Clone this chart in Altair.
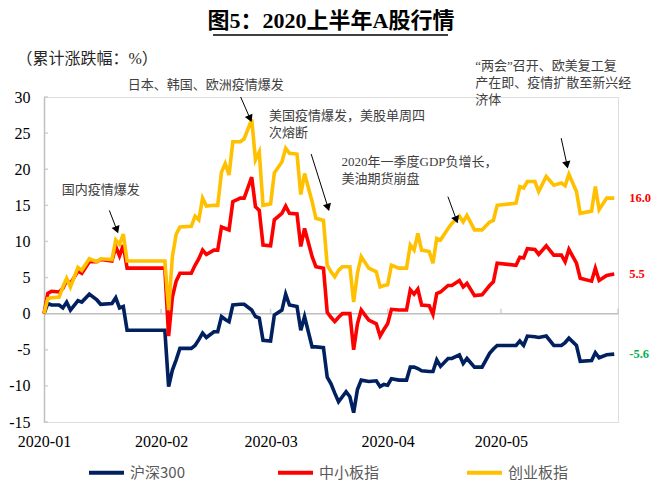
import altair as alt
import pandas as pd

# ---------------- data ----------------
dates = ["2020-01-01","2020-01-02","2020-01-03","2020-01-05","2020-01-06","2020-01-07","2020-01-08",
         "2020-01-10","2020-01-11","2020-01-13","2020-01-15","2020-01-16","2020-01-19","2020-01-20",
         "2020-01-21","2020-01-22","2020-01-23","2020-02-02","2020-02-03","2020-02-04","2020-02-05",
         "2020-02-06","2020-02-09","2020-02-10","2020-02-11","2020-02-12","2020-02-13","2020-02-15",
         "2020-02-16","2020-02-17","2020-02-18","2020-02-19","2020-02-20","2020-02-22","2020-02-23",
         "2020-02-25","2020-02-26","2020-02-27","2020-02-28","2020-03-01","2020-03-02","2020-03-04",
         "2020-03-05","2020-03-06","2020-03-08","2020-03-09","2020-03-10","2020-03-12","2020-03-13",
         "2020-03-15","2020-03-16","2020-03-17","2020-03-18","2020-03-19","2020-03-20","2020-03-21",
         "2020-03-22","2020-03-23","2020-03-24","2020-03-25","2020-03-27","2020-03-29","2020-03-30",
         "2020-03-31","2020-04-01","2020-04-02","2020-04-04","2020-04-06","2020-04-07","2020-04-08",
         "2020-04-09","2020-04-10","2020-04-12","2020-04-13","2020-04-14","2020-04-15","2020-04-17",
         "2020-04-18","2020-04-20","2020-04-21","2020-04-22","2020-04-24","2020-04-26","2020-04-28",
         "2020-04-29","2020-04-30","2020-05-05","2020-05-06","2020-05-07","2020-05-08","2020-05-10",
         "2020-05-11","2020-05-13","2020-05-15","2020-05-17","2020-05-18","2020-05-19","2020-05-21",
         "2020-05-22","2020-05-25","2020-05-26","2020-05-27","2020-05-29","2020-05-31"]

hs300 = [0, 1.4, 1.2, 1.2, 0.8, 1.6, 0.5, 1.8, 1.6, 2.7, 1.9, 1.3, 1.4, 2.2, 0.8, 1.0, -2.3, -2.3,
         -10.1, -7.8, -6.4, -4.8, -4.8, -4.4, -3.6, -2.7, -3.3, -2.5, -2.5, -0.4, -0.8, -1.1, 1.2,
         1.3, 1.3, 0.5, -0.4, -0.6, -3.7, -3.8, -0.2, 0.5, 2.7, 1.2, 1.0, -2.3, -0.4, -4.6, -4.6,
         -4.7, -8.8, -9.7, -11.0, -12.2, -11.5, -10.8, -11.5, -13.7, -10.5, -9.2, -9.4, -9.3, -10.1,
         -9.8, -9.9, -9.0, -9.2, -9.2, -7.4, -7.4, -7.6, -7.9, -8.0, -8.0, -6.4, -7.3, -6.2, -6.2,
         -5.7, -6.9, -6.2, -7.4, -7.4, -5.5, -4.9, -4.4, -4.4, -3.8, -4.4, -3.1, -3.2, -3.3, -3.1,
         -4.4, -4.4, -4.0, -3.4, -4.4, -6.6, -6.5, -5.4, -6.1, -5.7, -5.6]

zxb = [0, 2.8, 3.1, 3.0, 3.5, 4.6, 4.2, 5.9, 5.6, 7.2, 7.2, 7.5, 7.3, 9.3, 8.0, 9.5, 6.3, 6.3,
       -3.1, 2.3, 4.5, 5.6, 5.6, 6.7, 7.6, 8.8, 8.2, 8.8, 8.8, 12.0, 11.8, 11.6, 15.5, 16.0, 16.0,
       18.9, 14.8, 14.3, 9.5, 9.4, 13.0, 13.9, 14.9, 13.9, 13.8, 9.3, 11.8, 7.9, 6.5, 6.3, 0.2,
       -0.5, -1.1, -0.5, 0.0, 0.0, 0.0, -5.0, -1.4, 0.5, -0.9, -1.4, -3.1, -2.2, -1.4, 0.6, 0.5,
       0.5, 3.3, 2.7, 3.4, 1.2, 1.1, -0.1, 2.8, 3.0, 3.9, 3.9, 4.6, 3.7, 4.2, 2.5, 2.6, 3.9, 4.4,
       7.0, 6.7, 7.8, 7.7, 9.0, 8.9, 8.2, 9.4, 8.1, 8.1, 7.2, 8.9, 7.0, 4.9, 4.5, 6.3, 4.6, 5.3, 5.5]

cyb = [0, 2.1, 2.2, 2.3, 3.7, 4.9, 3.7, 6.4, 6.0, 7.6, 7.2, 7.6, 7.5, 10.2, 9.6, 11.0, 7.3, 7.3,
       0.5, 7.9, 11.0, 12.0, 12.1, 13.5, 13.0, 16.0, 14.9, 15.0, 15.0, 19.6, 20.8, 19.2, 23.8,
       23.8, 24.2, 26.9, 21.3, 22.4, 15.0, 15.2, 19.5, 21.0, 22.9, 22.2, 22.1, 16.5, 19.4, 15.5,
       13.2, 12.9, 6.7, 5.8, 5.1, 6.0, 6.5, 6.5, 6.5, 1.6, 5.6, 7.9, 6.3, 5.8, 3.7, 3.9, 4.0, 6.7,
       6.3, 6.3, 9.5, 8.8, 11.1, 8.8, 8.6, 7.0, 10.4, 10.2, 11.8, 12.5, 13.5, 12.7, 13.6, 11.6,
       11.6, 12.7, 12.9, 15.0, 15.3, 17.6, 17.4, 18.3, 18.3, 16.9, 19.0, 17.8, 18.1, 17.7, 19.3,
       16.9, 13.9, 14.2, 17.6, 14.4, 16.0, 16.0]

series_names = ["沪深300", "中小板指", "创业板指"]
y_tick_values = [-15, -10, -5, 0, 5, 10, 15, 20, 25, 30]
month_starts = ["2020-01-01", "2020-02-01", "2020-03-01", "2020-04-01", "2020-05-01", "2020-06-01"]

title_text = "图5：2020上半年A股行情"
y_label = "（累计涨跌幅：%）"

ann_texts = ["国内疫情爆发",
             "日本、韩国、欧洲疫情爆发",
             "美国疫情爆发，美股单周四\n次熔断",
             "2020年一季度GDP负增长，\n美油期货崩盘",
             "“两会”召开、欧美复工复\n产在即、疫情扩散至新兴经\n济体"]
ann_dates = ["2020-01-05T17:00Z", "2020-01-23T05:00Z", "2020-02-29T14:00Z",
             "2020-03-19T19:00Z", "2020-04-24T05:00Z"]
ann_values = [17.9, 32.5, 28.2, 21.9, 35.1]

arrow_start_dates = ["2020-01-18T07:00Z", "2020-02-22T02:00Z", "2020-03-11T18:00Z",
                     "2020-04-16T23:00Z", "2020-05-16T23:00Z"]
arrow_start_values = [14.3, 30.0, 22.1, 16.2, 24.3]
arrow_head_dates = ["2020-01-20T07:00Z", "2020-02-24T14:00Z", "2020-03-16T05:00Z",
                    "2020-04-19T05:00Z", "2020-05-18T12:00Z"]
arrow_head_values = [11.6, 27.0, 14.7, 13.0, 20.6]
arrow_angles = [159, 156, 163, 159, 168]

# ---------------- frames ----------------
wide = pd.DataFrame({"date": dates, "沪深300": hs300, "中小板指": zxb, "创业板指": cyb})
df = wide.melt("date", var_name="series", value_name="value")

end_df = pd.DataFrame({"date": [dates[-1]] * 3,
                       "value": [cyb[-1], zxb[-1], hs300[-1]]})
end_df["label"] = end_df["value"].map(lambda v: f"{v:.1f}")

ann_df = pd.DataFrame({"date": ann_dates, "value": ann_values, "text": ann_texts})
arrow_df = pd.DataFrame({"date": arrow_start_dates, "value": arrow_start_values,
                         "date2": arrow_head_dates, "value2": arrow_head_values,
                         "angle": arrow_angles})
head_df = pd.DataFrame({"date": arrow_head_dates, "value": arrow_head_values, "angle": arrow_angles})
ytick_df = pd.DataFrame({"value": y_tick_values})
mtick_df = pd.DataFrame({"date": month_starts, "value": [0] * len(month_starts)})
zero_df = pd.DataFrame({"value": [0]})
one_df = pd.DataFrame({"t": [title_text]})

SERIF = "Liberation Serif, Noto Sans CJK SC"
SANS = "Noto Sans CJK SC"
AXIS_GRAY = "#BFBFBF"

x_enc = alt.X("date:T",
              scale=alt.Scale(type="utc",
                              domain=[alt.DateTime(year=2020, month=1, date=1, utc=True),
                                      alt.DateTime(year=2020, month=6, date=1, utc=True)]),
              axis=alt.Axis(values=[alt.DateTime(year=2020, month=m, date=1, utc=True) for m in range(1, 6)],
                            format="%Y-%m", domain=False, ticks=False, grid=False,
                            labelFont=SERIF, labelFontSize=16, labelColor="#000000",
                            labelPadding=11, labelFlush=False, labelOverlap=False, title=None))
y_enc = alt.Y("value:Q",
              scale=alt.Scale(domain=[-15, 30], nice=False),
              axis=alt.Axis(values=y_tick_values, grid=False, ticks=False,
                            domainColor=AXIS_GRAY, domainWidth=1.5,
                            labelFont=SERIF, labelFontSize=16, labelColor="#000000",
                            labelPadding=14, labelOverlap=False, labelBound=False,
                            labelExpr="replace(datum.label, '\u2212', '-')",
                            title=y_label, titleAngle=0, titleX=-28, titleY=-39,
                            titleAlign="left", titleBaseline="middle",
                            titleFont=SERIF, titleFontSize=16, titleFontWeight="normal",
                            titleColor="#262626"))

zero_line = alt.Chart(zero_df).mark_rule(color=AXIS_GRAY, strokeWidth=1.5).encode(y=y_enc)

month_ticks = alt.Chart(mtick_df).mark_tick(orient="vertical", size=5, thickness=1.5,
                                             color=AXIS_GRAY, yOffset=-2.5).encode(
    x=x_enc, y=y_enc)

y_ticks = alt.Chart(ytick_df).mark_tick(orient="horizontal", size=4, thickness=1.5,
                                         color=AXIS_GRAY).encode(x=alt.value(2), y=y_enc)

lines = alt.Chart(df).mark_line(strokeWidth=3.6, interpolate="linear").encode(
    x=x_enc, y=y_enc,
    color=alt.Color("series:N",
                    scale=alt.Scale(domain=series_names, range=["#002060", "#FF0000", "#FFC000"]),
                    sort=series_names,
                    legend=alt.Legend(orient="none", legendX=43, legendY=356,
                                      direction="horizontal", columns=3, gridAlign="all",
                                      title=None,
                                      symbolType="stroke", symbolStrokeWidth=4,
                                      symbolSize=1225, labelFont=SANS, labelFontSize=15,
                                      labelColor="#595959", columnPadding=79, labelOffset=4)),
    order=alt.Order("series_order:Q"),
).transform_calculate(
    series_order="indexof(['沪深300','中小板指','创业板指'], datum.series)"
)

end_labels = alt.Chart(end_df).mark_text(align="left", baseline="middle", dx=15,
                                         font=SERIF, fontSize=12.5, fontWeight="bold").encode(
    x=x_enc, y=y_enc, text="label:N",
    color=alt.condition("datum.value < 0", alt.value("#00B050"), alt.value("#FF0000")))

ann = alt.Chart(ann_df).mark_text(align="left", baseline="top", lineBreak="\n", lineHeight=17,
                                  font=SERIF, fontSize=13, color="#404040").encode(
    x=x_enc, y=y_enc, text="text:N")

arrows = alt.Chart(arrow_df).mark_rule(color="#000000", strokeWidth=1).encode(
    x=x_enc, y=y_enc, x2="date2:T", y2="value2:Q")

heads = alt.Chart(head_df).mark_point(shape="triangle-up", filled=True, size=70,
                                      color="#000000", opacity=1).encode(
    x=x_enc, y=y_enc, angle=alt.Angle("angle:Q", scale=None))

title = alt.Chart(one_df).mark_text(font=SERIF, fontSize=22, fontWeight="bold",
                                    align="center", baseline="middle", color="#000000").encode(
    text="t:N", x=alt.value(287), y=alt.value(-76))

underline = alt.Chart(one_df).mark_rule(color="#000000", strokeWidth=1.5).encode(
    x=alt.value(169), x2=alt.value(404), y=alt.value(-62))

chart = alt.layer(zero_line, month_ticks, y_ticks, lines, end_labels, ann, arrows, heads,
                  title, underline).properties(
    width=574, height=325,
    autosize="none",
    padding={"left": 36, "top": 89, "right": 34, "bottom": 66},
).configure_view(stroke=None).configure(background="#FFFFFF")

chart.save("out.html", embed_options={"renderer": "svg", "actions": False})
